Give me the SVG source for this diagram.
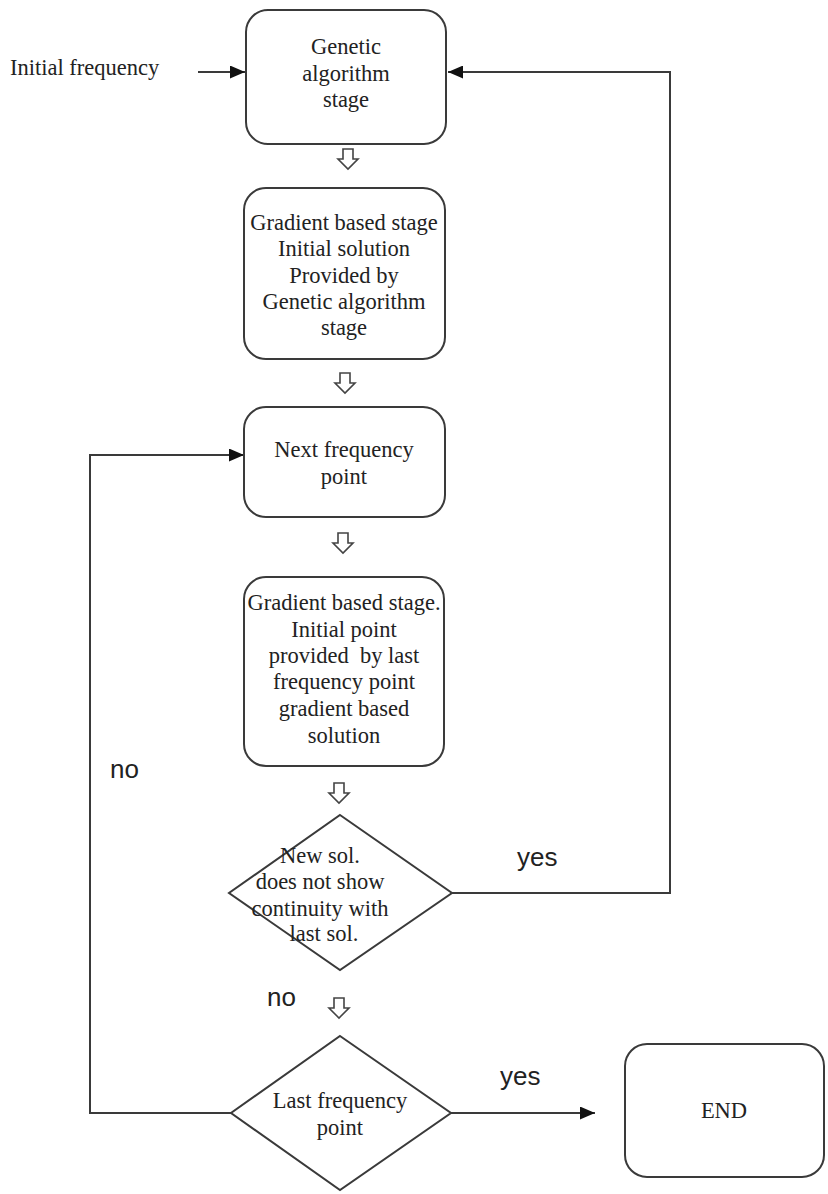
<svg xmlns="http://www.w3.org/2000/svg" width="828" height="1194" viewBox="0 0 828 1194">
<style>
.box{fill:#fff;stroke:#3a3a3a;stroke-width:2}
.t{font-family:"Liberation Serif","Times New Roman",serif;font-size:22.5px;fill:#222;text-anchor:middle}
.lbl{font-family:"Liberation Sans",Arial,sans-serif;font-size:26px;fill:#222}
.c{fill:none;stroke:#3a3a3a;stroke-width:2}
.ha{fill:#fff;stroke:#444;stroke-width:1.6;stroke-linejoin:miter}
</style>
<defs>
<marker id="ah" markerUnits="userSpaceOnUse" markerWidth="15" markerHeight="13" refX="15" refY="6.5" orient="auto">
<path d="M0,0 L15,6.5 L0,13 z" fill="#111"/>
</marker>
<symbol id="down" overflow="visible">
<polygon class="ha" points="-5,0 5,0 5,10 10,10 0,20 -10,10 -5,10"/>
</symbol>
</defs>
<rect width="828" height="1194" fill="#fff"/>

<g id="connectors">
<line class="c" x1="198" y1="72" x2="245" y2="72" marker-end="url(#ah)"/>
<polyline class="c" points="452,893 670,893 670,72 448,72" marker-end="url(#ah)"/>
<line class="c" x1="451" y1="1113" x2="595" y2="1113" marker-end="url(#ah)"/>
<polyline class="c" points="231,1113 90,1113 90,455 244,455" marker-end="url(#ah)"/>
<use href="#down" x="348" y="149"/>
<use href="#down" x="345" y="373"/>
<use href="#down" x="343" y="533"/>
<use href="#down" x="339" y="783"/>
<use href="#down" x="339" y="998"/>
</g>

<g id="initial-frequency">
<text x="10" y="75" style="font-family:'Liberation Serif','Times New Roman',serif;font-size:22.5px;fill:#222">Initial frequency</text>
</g>

<g id="genetic-stage">
<rect class="box" x="246" y="10" width="200" height="134" rx="22"/>
<text class="t" x="346" y="54">Genetic</text>
<text class="t" x="346" y="81">algorithm</text>
<text class="t" x="346" y="107">stage</text>
</g>

<g id="gradient-stage-1">
<rect class="box" x="244" y="188" width="201" height="171" rx="22"/>
<text class="t" x="344" y="230">Gradient based stage</text>
<text class="t" x="344" y="256">Initial solution</text>
<text class="t" x="344" y="283">Provided by</text>
<text class="t" x="344" y="309">Genetic algorithm</text>
<text class="t" x="344" y="335">stage</text>
</g>

<g id="next-frequency">
<rect class="box" x="244" y="407" width="201" height="110" rx="22"/>
<text class="t" x="344" y="457">Next frequency</text>
<text class="t" x="344" y="484">point</text>
</g>

<g id="gradient-stage-2">
<rect class="box" x="244" y="577" width="200" height="189" rx="22"/>
<text class="t" x="344" y="610">Gradient based stage.</text>
<text class="t" x="344" y="637">Initial point</text>
<text class="t" x="344" y="663" xml:space="preserve">provided  by last</text>
<text class="t" x="344" y="689">frequency point</text>
<text class="t" x="344" y="716">gradient based</text>
<text class="t" x="344" y="743">solution</text>
</g>

<g id="continuity-check">
<polygon class="box" points="340,815 452,893 340,970 229,893"/>
<text class="t" x="320" y="863">New sol.</text>
<text class="t" x="320" y="889">does not show</text>
<text class="t" x="320" y="916">continuity with</text>
<text class="t" x="324" y="941">last sol.</text>
</g>

<g id="last-frequency-check">
<polygon class="box" points="340,1036 451,1113 340,1190 231,1113"/>
<text class="t" x="340" y="1108">Last frequency</text>
<text class="t" x="340" y="1135">point</text>
</g>

<g id="end">
<rect class="box" x="625" y="1044" width="199" height="133" rx="22"/>
<text class="t" x="724" y="1118">END</text>
</g>

<g id="labels">
<text class="lbl" x="517" y="866">yes</text>
<text class="lbl" x="500" y="1085">yes</text>
<text class="lbl" x="110" y="778">no</text>
<text class="lbl" x="267" y="1006">no</text>
</g>
</svg>
